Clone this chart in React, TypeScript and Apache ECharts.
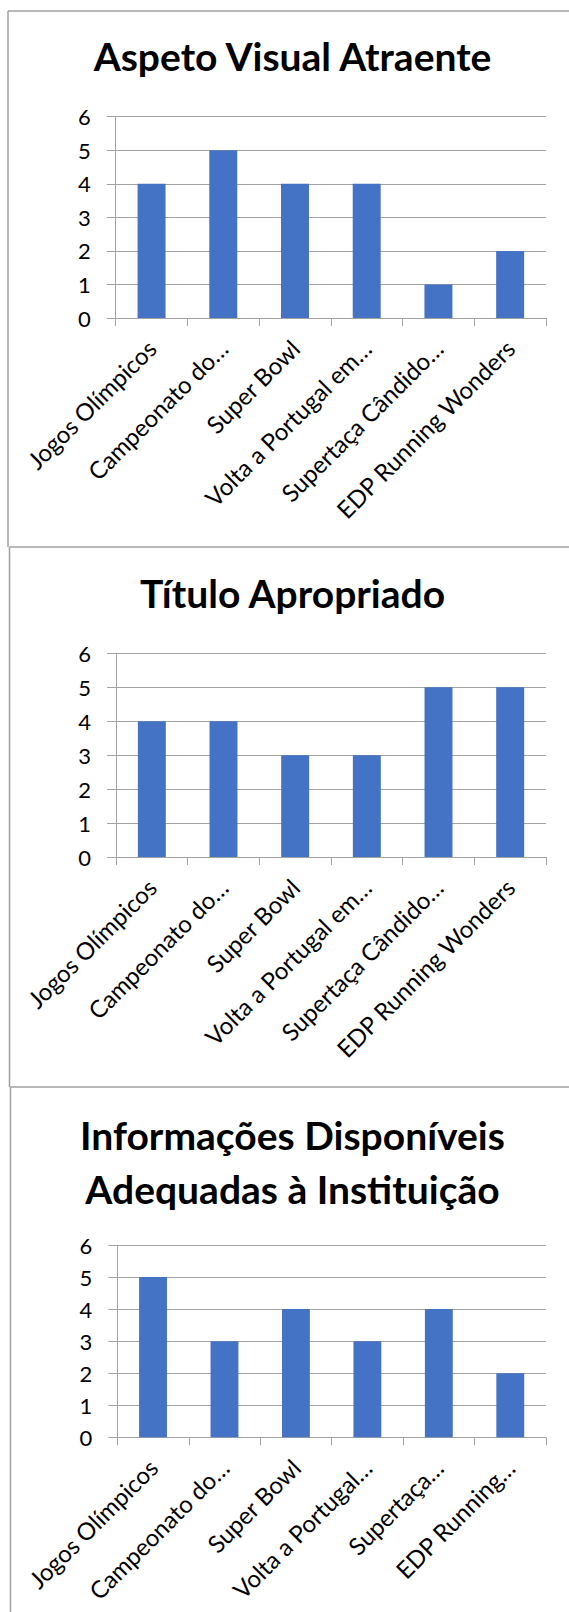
import React, { useEffect, useRef } from "react";
import * as echarts from "echarts";

// Chart titles (third one spans two lines)
const titles1 = ["Aspeto Visual Atraente"];
const titles2 = ["Título Apropriado"];
const titles3 = ["Informações Disponíveis", "Adequadas à Instituição"];

// Category labels as shown under each chart
const categoriesFull = [
  "Jogos Olímpicos",
  "Campeonato do…",
  "Super Bowl",
  "Volta a Portugal em…",
  "Supertaça Cândido…",
  "EDP Running Wonders",
];
const categoriesShort = [
  "Jogos Olímpicos",
  "Campeonato do…",
  "Super Bowl",
  "Volta a Portugal…",
  "Supertaça…",
  "EDP Running…",
];

// Scores per event
const valuesVisual = [4, 5, 4, 4, 1, 2];
const valuesTitulo = [4, 4, 3, 3, 5, 5];
const valuesInfo = [5, 3, 4, 3, 4, 2];

const yMin = 0;
const yMax = 6;
const yStep = 1;

const W = 569;
const H = 1612;
const FONT = "Lato, 'Open Sans', sans-serif";
const GRID_COLOR = "#a3a3a3";
const BAR_COLOR = "#4472C4";
const BORDER_COLOR = "#a0a0a0";
const TITLE_SIZE = 39;

// Panel layout: plot rectangles and title positions
const panels = [
  { left: 115.7, top: 116.7, bottom: 318, right: 546, titleY: [56], titles: titles1, cats: categoriesFull, values: valuesVisual },
  { left: 116, top: 653.3, bottom: 857, right: 546, titleY: [592.5], titles: titles2, cats: categoriesFull, values: valuesTitulo },
  { left: 117.3, top: 1245, bottom: 1437.3, right: 546, titleY: [1135, 1189], titles: titles3, cats: categoriesShort, values: valuesInfo },
];

// Frame lines around each panel
const frames = [
  { x: 8, top: 11, bottom: 547 },
  { x: 9.5, top: 547, bottom: 1087 },
  { x: 10.5, top: 1087, bottom: 1612 },
];

function buildOption() {
  const grid = panels.map((p) => ({
    left: p.left,
    top: p.top,
    width: p.right - p.left,
    height: p.bottom - p.top,
    containLabel: false,
  }));

  const xAxis = panels.map((p, i) => ({
    type: "category",
    gridIndex: i,
    data: p.cats,
    axisLine: { show: true, lineStyle: { color: GRID_COLOR, width: 1 } },
    axisTick: { show: true, length: 8, lineStyle: { color: GRID_COLOR, width: 1 } },
    axisLabel: {
      interval: 0,
      rotate: 45,
      margin: 26,
      fontSize: 24,
      fontFamily: FONT,
      color: "#000",
    },
  }));

  const yAxis = panels.map((_p, i) => ({
    type: "value",
    gridIndex: i,
    min: yMin,
    max: yMax,
    interval: yStep,
    axisLine: { show: true, lineStyle: { color: GRID_COLOR, width: 1 } },
    axisTick: { show: true, length: 9, lineStyle: { color: GRID_COLOR, width: 1 } },
    splitLine: { show: true, lineStyle: { color: GRID_COLOR, width: 1 } },
    axisLabel: {
      margin: 25,
      fontSize: 22,
      fontFamily: FONT,
      color: "#000",
    },
  }));

  const series = panels.map((p, i) => ({
    type: "bar",
    xAxisIndex: i,
    yAxisIndex: i,
    data: p.values,
    barCategoryGap: "61%",
    itemStyle: { color: BAR_COLOR },
  }));

  const graphic: any[] = [];
  frames.forEach((f) => {
    graphic.push({
      type: "line",
      shape: { x1: f.x, y1: f.top, x2: f.x, y2: f.bottom },
      style: { stroke: BORDER_COLOR, lineWidth: 1.5 },
      silent: true,
    });
    graphic.push({
      type: "line",
      shape: { x1: f.x, y1: f.top, x2: W, y2: f.top },
      style: { stroke: BORDER_COLOR, lineWidth: 1.5 },
      silent: true,
    });
  });

  panels.forEach((p) => {
    p.titles.forEach((t, j) => {
      graphic.push({
        type: "text",
        x: 292.5,
        y: p.titleY[j],
        style: {
          text: t,
          fontSize: TITLE_SIZE,
          fontWeight: "bold",
          fontFamily: FONT,
          fill: "#000",
          align: "center",
          verticalAlign: "middle",
        },
        silent: true,
      });
    });
  });

  return {
    animation: false,
    backgroundColor: "#fff",
    grid,
    xAxis,
    yAxis,
    series,
    graphic,
  };
}

export default function App() {
  const ref = useRef<HTMLDivElement>(null);

  useEffect(() => {
    if (!ref.current) return;
    const chart = echarts.init(ref.current, null, { renderer: "svg" });
    chart.setOption(buildOption() as any);
    return () => chart.dispose();
  }, []);

  return (
    <div
      ref={ref}
      style={{ position: "absolute", left: 0, top: 0, width: W, height: H, background: "#fff" }}
    />
  );
}
